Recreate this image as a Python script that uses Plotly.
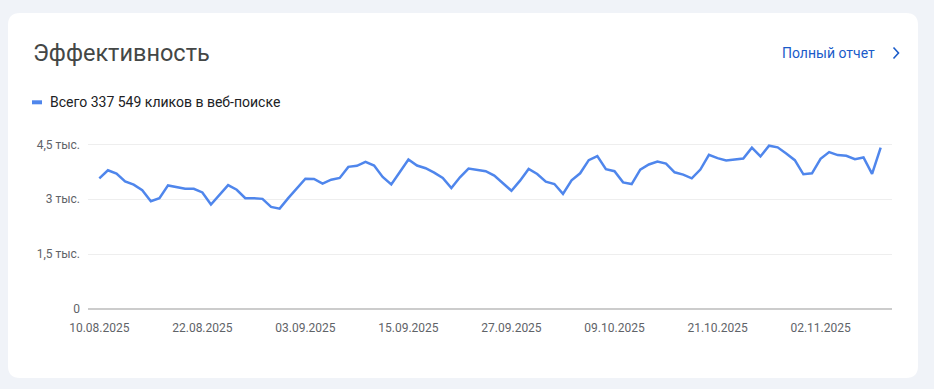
import datetime as dt
import plotly.graph_objects as go

# ---- data ----
start_date = "2025-08-10"
clicks = [3570, 3791, 3699, 3488, 3396, 3248, 2945, 3028, 3377, 3331, 3285, 3285, 3184,
          2853, 3120, 3386, 3258, 3028, 3028, 3009, 2788, 2742, 3028, 3304, 3561, 3552,
          3423, 3534, 3580, 3883, 3911, 4021, 3920, 3607, 3405, 3745, 4086, 3920, 3846,
          3727, 3580, 3304, 3598, 3837, 3800, 3764, 3644, 3442, 3230, 3506, 3828, 3690,
          3478, 3414, 3147, 3515, 3708, 4067, 4178, 3819, 3764, 3460, 3414, 3810, 3948,
          4030, 3975, 3736, 3672, 3570, 3810, 4214, 4122, 4058, 4086, 4113, 4408, 4168,
          4463, 4417, 4251, 4067, 3681, 3708, 4104, 4288, 4205, 4187, 4095, 4141, 3690, 4408]
x_tick_labels = ["10.08.2025", "22.08.2025", "03.09.2025", "15.09.2025",
                 "27.09.2025", "09.10.2025", "21.10.2025", "02.11.2025"]
y_tick_values = [0, 1500, 3000, 4500]
y_tick_labels = ["0", "1,5 тыс.", "3 тыс.", "4,5 тыс."]
title_text = "Эффективность"
link_text = "Полный отчет"
legend_text = "Всего 337 549 кликов в веб-поиске"

d0 = dt.datetime.strptime(start_date, "%Y-%m-%d")
dates = [d0 + dt.timedelta(days=i) for i in range(len(clicks))]
tick_dates = [dt.datetime.strptime(t, "%d.%m.%Y") for t in x_tick_labels]

W, H = 934, 389
L, R, T, B = 88, 42, 126, 80
PW, PH = W - L - R, H - T - B

def px(x):
    return (x - L) / PW

def py(y):
    return (H - B - y) / PH

BLUE = "#4f86ec"
PAGE = "#f0f3f8"
LINK = "#1a5bc9"

fig = go.Figure()
fig.add_trace(go.Scatter(x=dates, y=clicks, mode="lines",
                         line=dict(color=BLUE, width=2.5),
                         hoverinfo="skip", showlegend=False, cliponaxis=False))

# card with rounded corners (pixel coords -> paper)
x0, x1, y0, y1, r = 8, 918, 13, 378, 12
pts = [
    f"M {px(x0 + r)},{py(y0)}",
    f"L {px(x1 - r)},{py(y0)}",
    f"Q {px(x1)},{py(y0)} {px(x1)},{py(y0 + r)}",
    f"L {px(x1)},{py(y1 - r)}",
    f"Q {px(x1)},{py(y1)} {px(x1 - r)},{py(y1)}",
    f"L {px(x0 + r)},{py(y1)}",
    f"Q {px(x0)},{py(y1)} {px(x0)},{py(y1 - r)}",
    f"L {px(x0)},{py(y0 + r)}",
    f"Q {px(x0)},{py(y0)} {px(x0 + r)},{py(y0)} Z",
]
shapes = [
    dict(type="path", xref="paper", yref="paper", path=" ".join(pts),
         fillcolor="white", line=dict(width=0), layer="below"),
    # legend swatch
    dict(type="rect", xref="paper", yref="paper",
         x0=px(32), x1=px(42), y0=py(100.3), y1=py(104.3),
         fillcolor=BLUE, line=dict(width=0)),
    # chevron
    dict(type="path", xref="paper", yref="paper",
         path=f"M {px(893.5)},{py(47.5)} L {px(898.5)},{py(53)} L {px(893.5)},{py(58.5)}",
         line=dict(color=LINK, width=1.6)),
]

annotations = [
    dict(x=px(31), y=py(53), xref="paper", yref="paper", text=title_text,
         showarrow=False, xanchor="left", yanchor="middle",
         font=dict(family="Roboto", size=23.5, color="#444746")),
    dict(x=px(877), y=py(53), xref="paper", yref="paper", text=link_text,
         showarrow=False, xanchor="right", yanchor="middle",
         font=dict(family="Roboto", size=14, color=LINK)),
    dict(x=px(48), y=py(102), xref="paper", yref="paper", text=legend_text,
         showarrow=False, xanchor="left", yanchor="middle",
         font=dict(family="Roboto", size=14, color="#202124")),
]

pad = dt.timedelta(days=1.32)
fig.update_layout(
    width=W, height=H,
    margin=dict(l=L, r=R, t=T, b=B, pad=0),
    paper_bgcolor=PAGE, plot_bgcolor="rgba(0,0,0,0)",
    shapes=shapes, annotations=annotations,
    font=dict(family="Roboto", size=12, color="#5f6368"),
    xaxis=dict(range=[dates[0] - pad, dates[-1] + pad], tickvals=tick_dates,
               ticktext=x_tick_labels, showgrid=False, zeroline=False,
               showline=False, ticks="", ticklabelstandoff=10,
               tickfont=dict(family="Roboto", size=12, color="#5f6368")),
    yaxis=dict(range=[0, 5000], tickvals=y_tick_values, ticktext=y_tick_labels,
               showgrid=True, gridcolor="#eeeeee", gridwidth=1,
               zeroline=True, zerolinecolor="#cccccc", zerolinewidth=2,
               showline=False, ticks="", ticklabelstandoff=7,
               tickfont=dict(family="Roboto", size=12, color="#5f6368")),
)

fig.write_html("out.html", config={"displayModeBar": False},
               post_script="document.body.style.margin='0';"
                           "document.body.style.background='" + PAGE + "';")
